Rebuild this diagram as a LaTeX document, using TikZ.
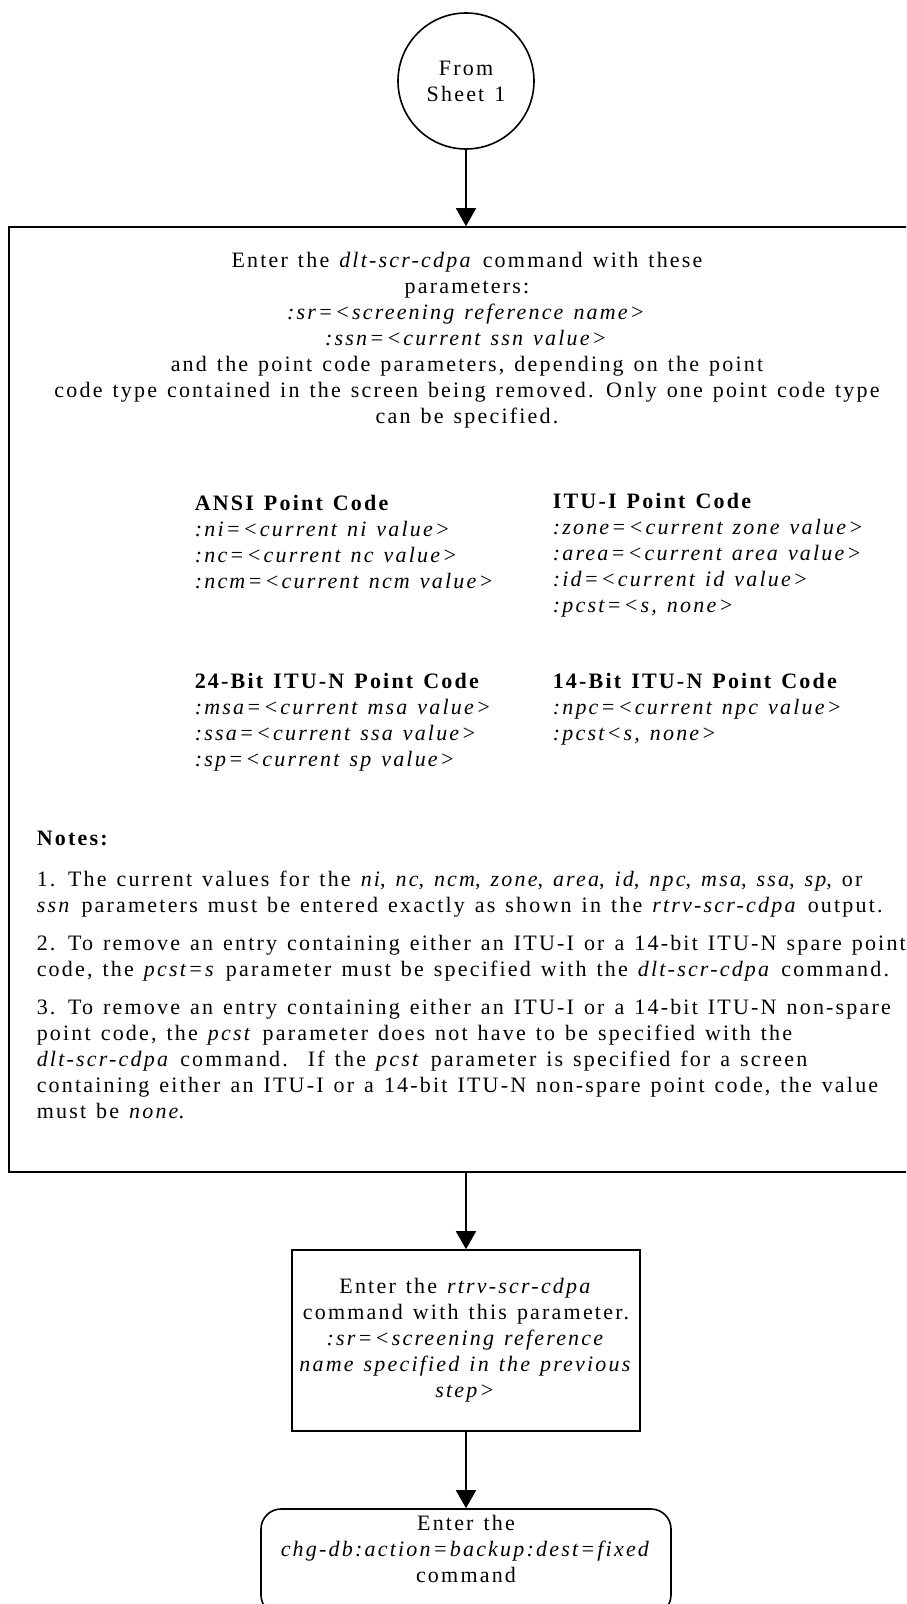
\documentclass[tikz,border=0pt]{standalone}
\usepackage{fontspec}
\setmainfont{Liberation Serif}[LetterSpace=10,WordSpace=1.3]
\usetikzlibrary{arrows.meta}

\begin{document}
\begin{tikzpicture}[x=1pt,y=-1pt,line width=1.6pt,
    every node/.style={font=\fontsize{22}{26}\selectfont,inner sep=0pt},
    flow/.style={-{Triangle[length=18pt,width=20pt]}},
    sheet/.style={draw,circle,minimum size=136pt,align=center},
    bigbox/.style={draw,rectangle,minimum width=914pt,minimum height=945pt},
    stepbox/.style={draw,rectangle,minimum width=348pt,minimum height=181pt,align=center},
    endbox/.style={draw,rectangle,rounded corners=20pt,minimum width=410pt,minimum height=106pt},
    txt/.style={align=center},
    col/.style={align=left,anchor=west}]
        \useasboundingbox (0,0) rectangle (906,1604);
        \clip (0,0) rectangle (906,1604);
        \node[sheet] (from) at (466,81) {From\\Sheet 1};
        \node[bigbox] (dlt) at (466,699.5) {};
        \node[txt] (intro) at (467,340.5) {Enter the \textit{dlt-scr-cdpa} command with these\\
            parameters:\\
            \textit{:sr=<screening reference name>}\\
            \textit{:ssn=<current ssn value>}\\
            and the point code parameters, depending on the point\\
            code type contained in the screen being removed. Only one point code type\\
            can be specified.};
        \node[col] (ansi) at (194,542) {\textbf{ANSI Point Code}\\
            \textit{:ni=<current ni value>}\\
            \textit{:nc=<current nc value>}\\
            \textit{:ncm=<current ncm value>}};
        \node[col] (itui) at (552,555) {\textbf{ITU-I Point Code}\\
            \textit{:zone=<current zone value>}\\
            \textit{:area=<current area value>}\\
            \textit{:id=<current id value>}\\
            \textit{:pcst=<s, none>}};
        \node[col] (itun24) at (194,722.5) {\textbf{24-Bit ITU-N Point Code}\\
            \textit{:msa=<current msa value>}\\
            \textit{:ssa=<current ssa value>}\\
            \textit{:sp=<current sp value>}};
        \node[col] (itun14) at (552,709) {\textbf{14-Bit ITU-N Point Code}\\
            \textit{:npc=<current npc value>}\\
            \textit{:pcst<s, none>}};
        \node[col] (notes) at (36,974.5) {\textbf{Notes:}\\[15pt]
            1. The current values for the \textit{ni}, \textit{nc}, \textit{ncm}, \textit{zone}, \textit{area}, \textit{id}, \textit{npc}, \textit{msa}, \textit{ssa}, \textit{sp}, or\\
            \textit{ssn} parameters must be entered exactly as shown in the \textit{rtrv-scr-cdpa} output.\\[12pt]
            2. To remove an entry containing either an ITU-I or a 14-bit ITU-N spare point\\
            code, the \textit{pcst=s} parameter must be specified with the \textit{dlt-scr-cdpa} command.\\[12pt]
            3. To remove an entry containing either an ITU-I or a 14-bit ITU-N non-spare\\
            point code, the \textit{pcst} parameter does not have to be specified with the\\
            \textit{dlt-scr-cdpa} command.\ \ If the \textit{pcst} parameter is specified for a screen\\
            containing either an ITU-I or a 14-bit ITU-N non-spare point code, the value\\
            must be \textit{none}.};
        \node[stepbox] (rtrv) at (466,1340.5) {Enter the \textit{rtrv-scr-cdpa}\\
            command with this parameter.\\
            \textit{:sr=<screening reference}\\
            \textit{name specified in the previous}\\
            \textit{step>}};
        \node[endbox] (db) at (466,1562) {};
        \node[txt] (dbtext) at (466,1548.5) {Enter the\\
            \textit{chg-db:action=backup:dest=fixed}\\
            command};
        \draw[flow] (from) -- (dlt.north);
        \draw[flow] (dlt.south) -- (rtrv.north);
        \draw[flow] (rtrv.south) -- (db.north);
\end{tikzpicture}
\end{document}
